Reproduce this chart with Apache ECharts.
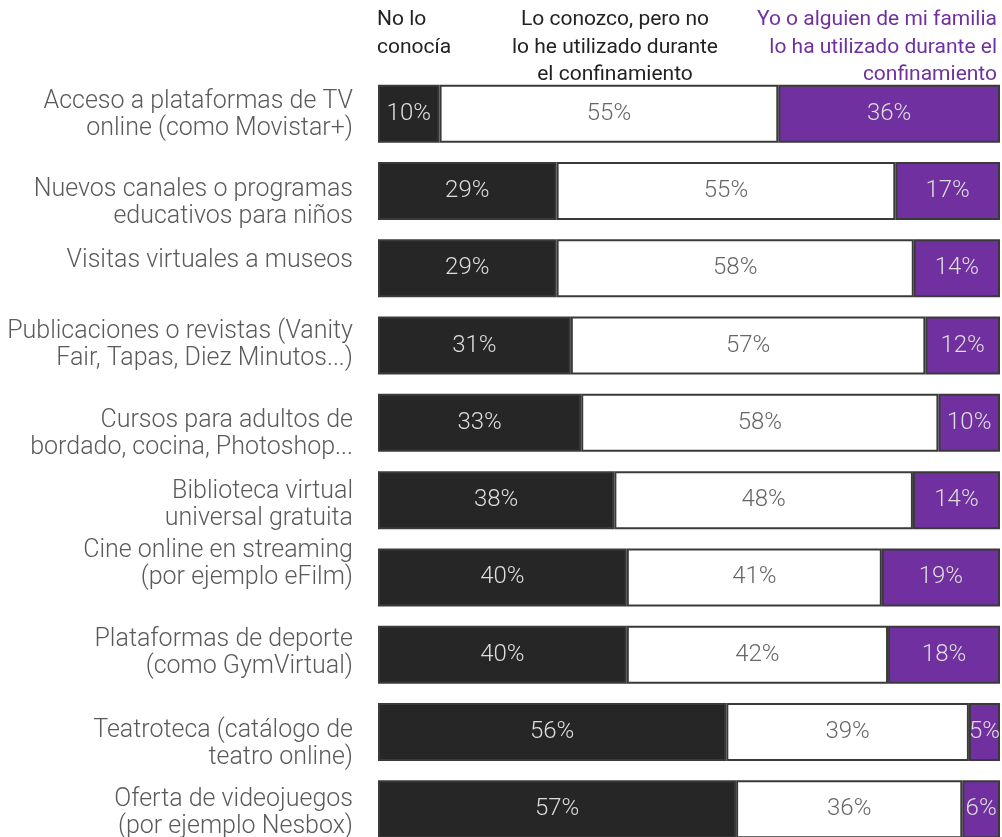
<!DOCTYPE html>
<html>
<head>
<meta charset="utf-8">
<script src="https://cdn.jsdelivr.net/npm/echarts@6/dist/echarts.min.js"></script>
<style>
  html, body { margin: 0; padding: 0; background: #fff; overflow: hidden; }
  #chart { width: 1002px; height: 848px; }
</style>
</head>
<body>
<div id="chart"></div>
<script>
// data
const categories = [
  'Acceso a plataformas de TV\nonline (como Movistar+)',
  'Nuevos canales o programas\neducativos para niños',
  'Visitas virtuales a museos',
  'Publicaciones o revistas (Vanity\nFair, Tapas, Diez Minutos...)',
  'Cursos para adultos de\nbordado, cocina, Photoshop...',
  'Biblioteca virtual\nuniversal gratuita',
  'Cine online en streaming\n(por ejemplo eFilm)',
  'Plataformas de deporte\n(como GymVirtual)',
  'Teatroteca (catálogo de\nteatro online)',
  'Oferta de videojuegos\n(por ejemplo Nesbox)'
]
const noConocia = [10, 29, 29, 31, 33, 38, 40, 40, 56, 57]
const conozcoNoUsado = [55, 55, 58, 57, 58, 48, 41, 42, 39, 36]
const utilizado = [36, 17, 14, 12, 10, 14, 19, 18, 5, 6]
const seriesNames = [
  'No lo\nconocía',
  'Lo conozco, pero no\nlo he utilizado durante\nel confinamiento',
  'Yo o alguien de mi familia\nlo ha utilizado durante el\nconfinamiento'
]

// vertical nudge of each row label in the original layout (px, + = down)
const labelShift = [2, 12, -8, 0, 11, 5, -13, -2, 12, 4]

const totals = categories.map((_, i) => noConocia[i] + conozcoNoUsado[i] + utilizado[i])
const toShare = (arr) => arr.map((v, i) => ({ value: v / totals[i] * 100, shown: v }))

// spacer lines used to push a row label up or down
const gapRich = {}
labelShift.forEach((s, i) => {
  gapRich['g' + i] = { fontSize: 1, lineHeight: Math.abs(s) * 2, height: Math.abs(s) * 2 }
})

const FONT = 'Roboto'
const makeSeries = (name, arr, fill, labelColor) => ({
  name: name,
  type: 'bar',
  stack: 'total',
  barWidth: 58,
  data: toShare(arr),
  itemStyle: { color: fill, borderColor: '#3a3a3a', borderWidth: 2 },
  label: {
    show: true,
    position: 'inside',
    color: labelColor,
    fontFamily: FONT,
    fontWeight: 300,
    fontSize: 24,
    formatter: (p) => p.data.shown + '%'
  },
  emphasis: { disabled: true }
})

const legendFont = { fontFamily: FONT, fontSize: 21, lineHeight: 27.5 }
const echartsOption = {
  animation: false,
  grid: { left: 378, right: 2, top: 75, bottom: 0 },
  xAxis: {
    type: 'value',
    min: 0,
    max: 100,
    show: false
  },
  yAxis: {
    type: 'category',
    inverse: true,
    data: categories,
    axisLine: { show: false },
    axisTick: { show: false },
    axisLabel: {
      color: '#5a5a5a',
      fontFamily: FONT,
      fontWeight: 300,
      fontSize: 25,
      lineHeight: 27,
      margin: 25,
      formatter: (value, index) => {
        const s = labelShift[index]
        if (!s) return value
        return s > 0 ? '{g' + index + '| }\n' + value : value + '\n{g' + index + '| }'
      },
      rich: gapRich
    }
  },
  graphic: [
    { type: 'text', x: 377, y: 6, style: { text: seriesNames[0], fill: '#222', ...legendFont } },
    { type: 'text', x: 615, y: 6, style: { text: seriesNames[1], fill: '#222', ...legendFont, align: 'center' } },
    { type: 'text', x: 997, y: 6, style: { text: seriesNames[2], fill: '#7030a0', ...legendFont, align: 'right' } }
  ],
  series: [
    makeSeries(seriesNames[0], noConocia, '#262626', '#ddd'),
    makeSeries(seriesNames[1], conozcoNoUsado, '#ffffff', '#666'),
    makeSeries(seriesNames[2], utilizado, '#7030a0', '#ddd')
  ]
}

const chart = echarts.init(document.getElementById('chart'))
chart.setOption(echartsOption)
</script>
</body>
</html>
